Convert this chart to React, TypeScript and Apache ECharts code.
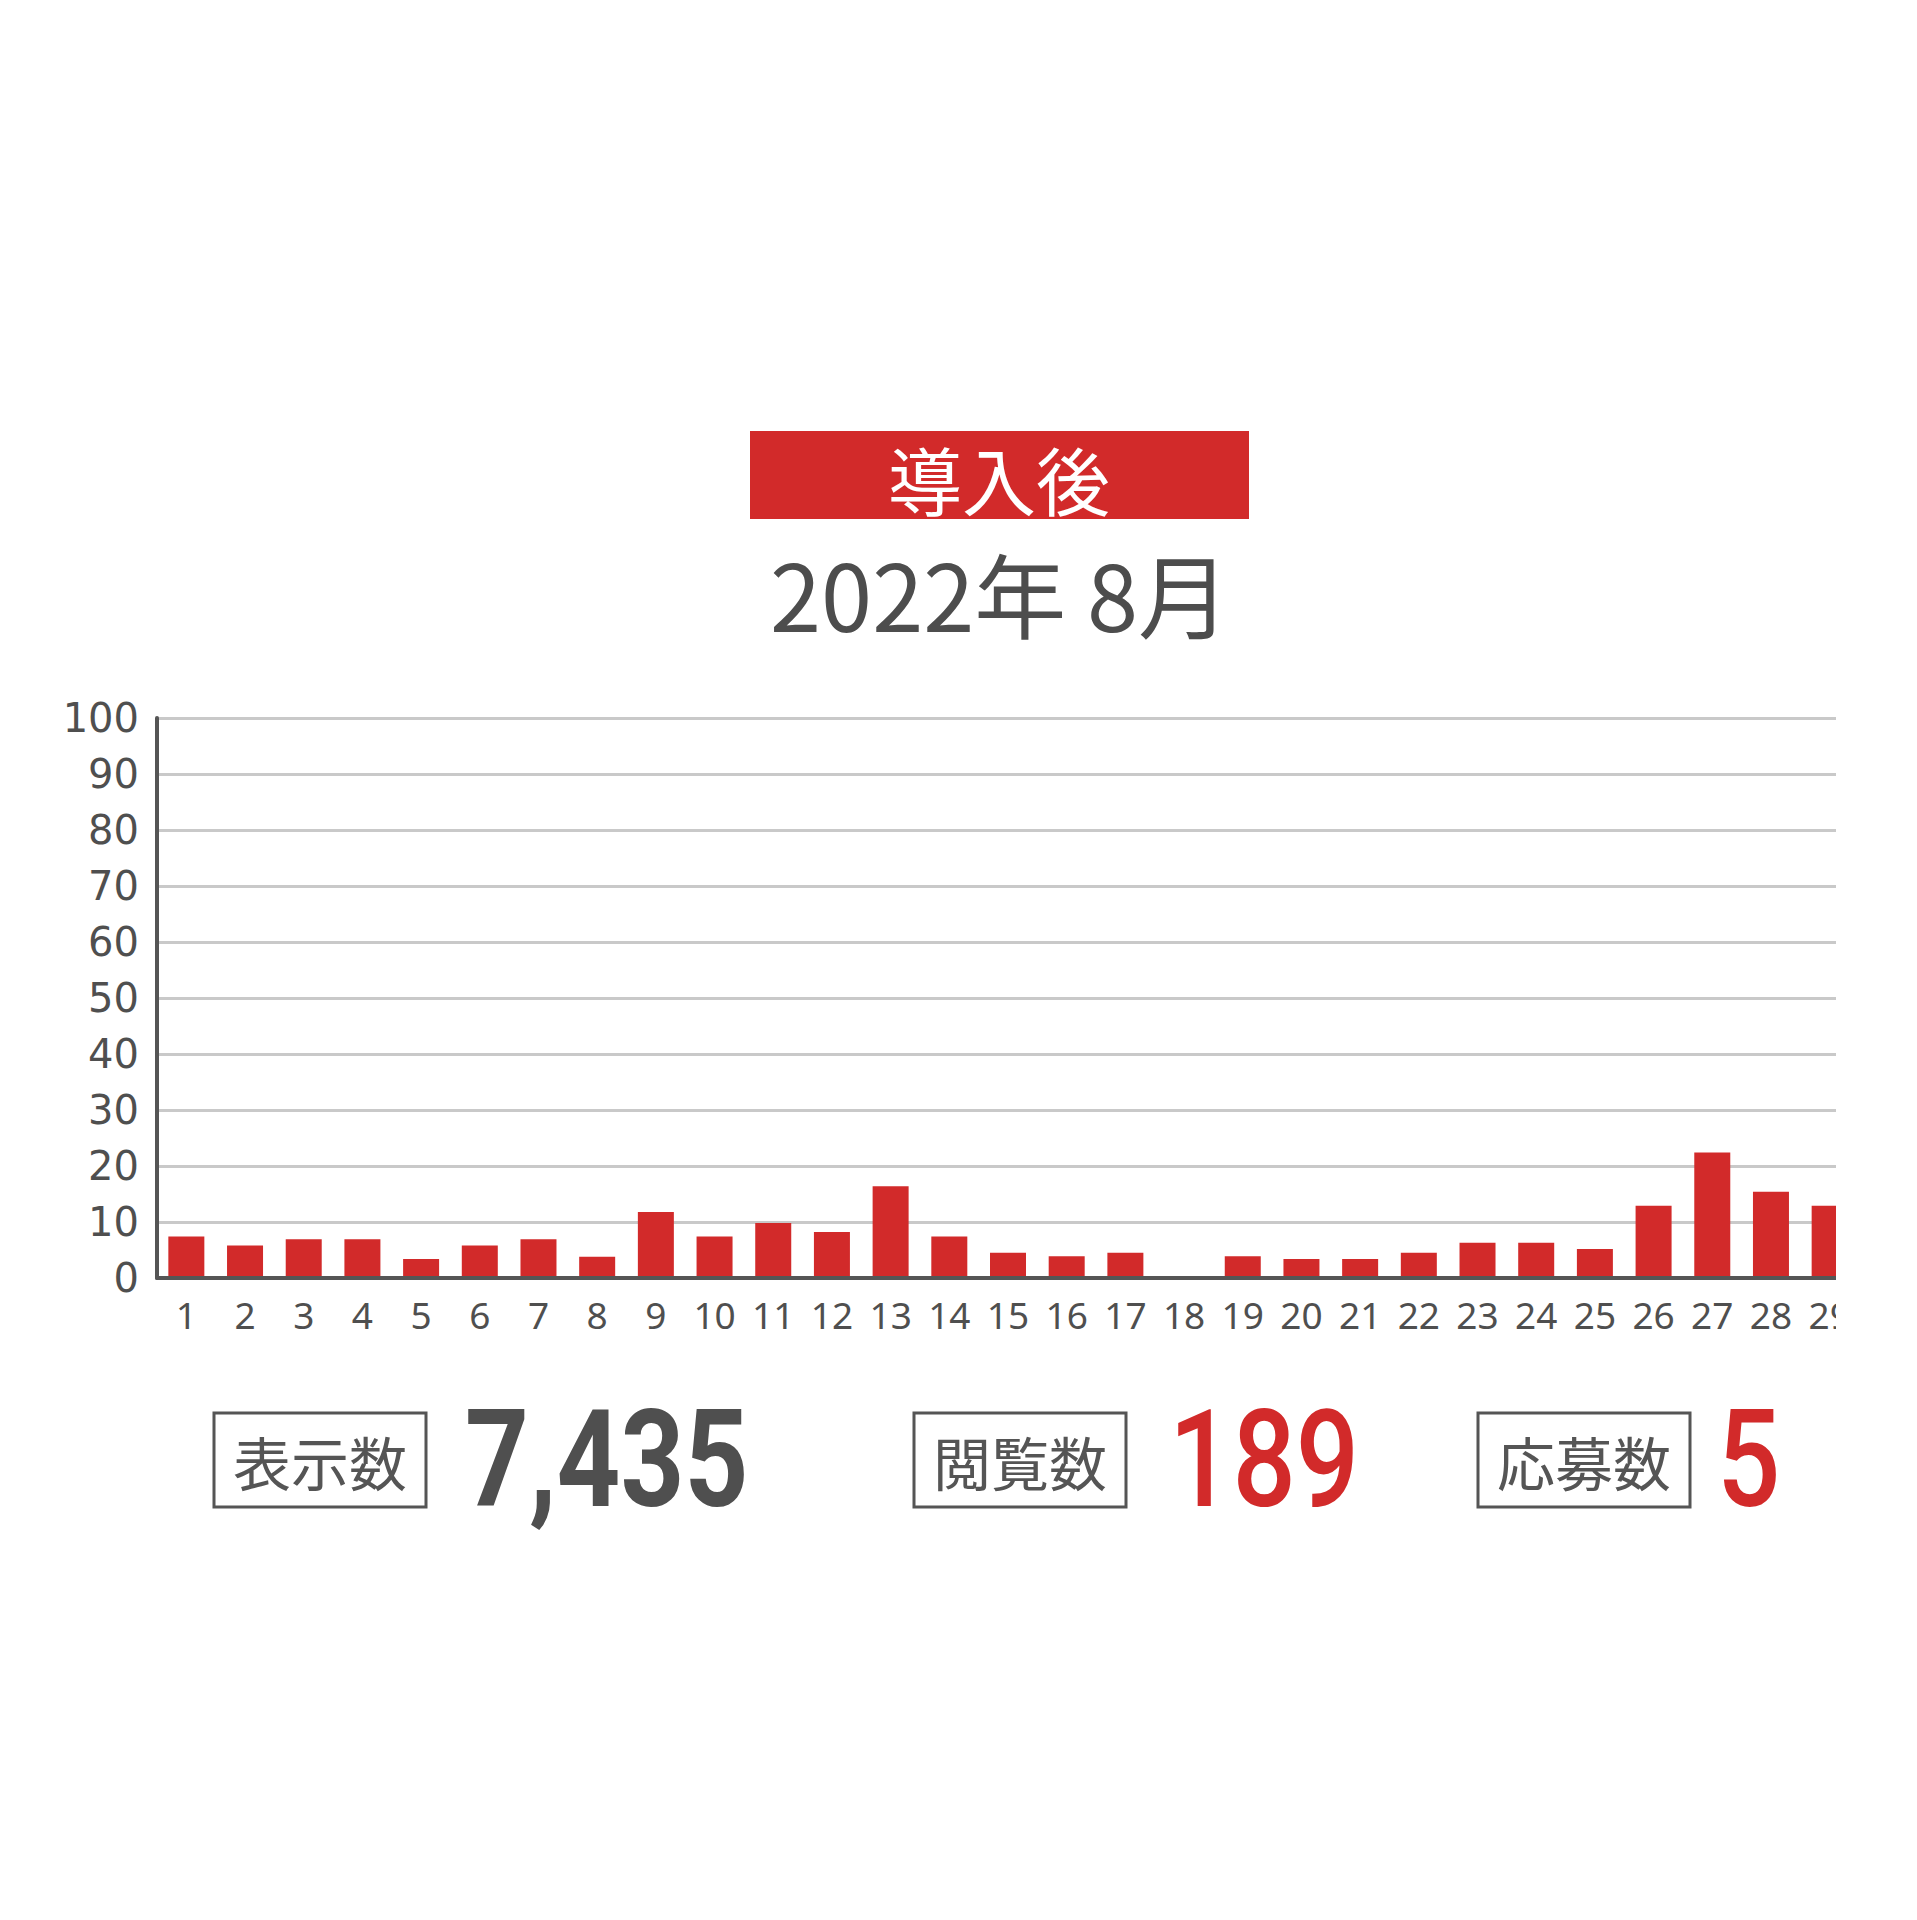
import { useEffect, useRef } from 'react';
import * as echarts from 'echarts';

// Daily views for August 2022 (days 30 and 31 fall outside the cropped frame)
const DAYS = [
  '1', '2', '3', '4', '5', '6', '7', '8', '9', '10',
  '11', '12', '13', '14', '15', '16', '17', '18', '19', '20',
  '21', '22', '23', '24', '25', '26', '27', '28', '29',
];
const DAILY_VIEWS = [
  7.4, 5.8, 6.9, 6.9, 3.4, 5.8, 6.9, 3.8, 11.8, 7.4,
  9.8, 8.2, 16.4, 7.4, 4.5, 3.9, 4.5, 0, 3.9, 3.4,
  3.4, 4.5, 6.3, 6.3, 5.2, 12.9, 22.4, 15.4, 12.9,
];
const Y_MAX = 100;
const Y_STEP = 10;

const BADGE_TEXT = '導入後';
const PERIOD_TEXT = '2022年 8月';
const STAT_LABELS = ['表示数', '閲覧数', '応募数'];
const STAT_VALUES = ['7,435', '189', '5'];

const RED = '#d22a2a';
const GRAY = '#4f4f4f';
const CJK = '"Noto Sans CJK JP", sans-serif';

// box left / value left per stat block, in chart pixels
const STAT_LAYOUT = [
  { box: 206, value: 457, color: GRAY, weight: 'bold' },
  { box: 906, value: 1161, color: RED, weight: 500 },
  { box: 1470, value: 1709, color: RED, weight: 500 },
];

export default function App() {
  const chartRef = useRef<HTMLDivElement>(null);

  useEffect(() => {
    if (!chartRef.current) return;
    const chart = echarts.init(chartRef.current, undefined, { renderer: 'svg' });

    const statGraphics = STAT_LABELS.flatMap((label, i) => {
      const l = STAT_LAYOUT[i];
      return [
        {
          type: 'rect',
          shape: { x: l.box, y: 1405, width: 212, height: 94 },
          style: { fill: 'none', stroke: '#555', lineWidth: 3 },
        },
        {
          type: 'text',
          x: l.box + 106,
          y: 1453,
          style: {
            text: label,
            fill: '#555',
            fontSize: 58,
            fontFamily: CJK,
            fontWeight: 400,
            textAlign: 'center',
            textVerticalAlign: 'middle',
          },
        },
        {
          type: 'text',
          x: l.value,
          y: 1452,
          scaleX: 0.82,
          style: {
            text: STAT_VALUES[i],
            fill: l.color,
            fontSize: 136,
            fontFamily: 'Roboto, sans-serif',
            fontWeight: l.weight,
            textAlign: 'left',
            textVerticalAlign: 'middle',
          },
        },
      ];
    });

    chart.setOption({
      animation: false,
      backgroundColor: '#ffffff',
      // the plot runs past the right edge and is cropped there, like the source
      grid: {
        left: 149,
        top: 710,
        width: 1702,
        height: 560,
        outerBoundsMode: 'none',
      },
      xAxis: {
        type: 'category',
        data: DAYS,
        z: 3,
        axisLine: { lineStyle: { color: '#555', width: 4 } },
        axisTick: { show: false },
        axisLabel: {
          interval: 0,
          margin: 18,
          color: GRAY,
          fontSize: 37,
          fontFamily: '"Noto Sans", sans-serif',
        },
      },
      yAxis: {
        type: 'value',
        min: 0,
        max: Y_MAX,
        interval: Y_STEP,
        axisLine: { show: true, lineStyle: { color: '#555', width: 4 } },
        axisTick: { show: false },
        axisLabel: {
          margin: 18,
          color: GRAY,
          fontSize: 40,
          fontFamily: '"DejaVu Sans", sans-serif',
        },
        splitLine: { lineStyle: { color: '#c9c9c9', width: 3 } },
      },
      series: [
        {
          type: 'bar',
          data: DAILY_VIEWS,
          barWidth: 36,
          itemStyle: { color: RED },
        },
      ],
      graphic: [
        {
          type: 'rect',
          shape: { x: 742, y: 423, width: 499, height: 88 },
          style: { fill: RED },
        },
        {
          type: 'text',
          x: 991,
          y: 469,
          style: {
            text: BADGE_TEXT,
            fill: '#ffffff',
            fontSize: 74,
            fontFamily: CJK,
            fontWeight: 400,
            textAlign: 'center',
            textVerticalAlign: 'middle',
          },
        },
        {
          type: 'text',
          x: 992,
          y: 583,
          style: {
            text: PERIOD_TEXT,
            fill: '#4d4d4d',
            fontSize: 92,
            fontFamily: CJK,
            fontWeight: 400,
            textAlign: 'center',
            textVerticalAlign: 'middle',
          },
        },
        ...statGraphics,
      ],
    });

    return () => {
      chart.dispose();
    };
  }, []);

  return (
    <div
      ref={chartRef}
      style={{ width: '1828px', height: '1904px', overflow: 'hidden' }}
    />
  );
}
